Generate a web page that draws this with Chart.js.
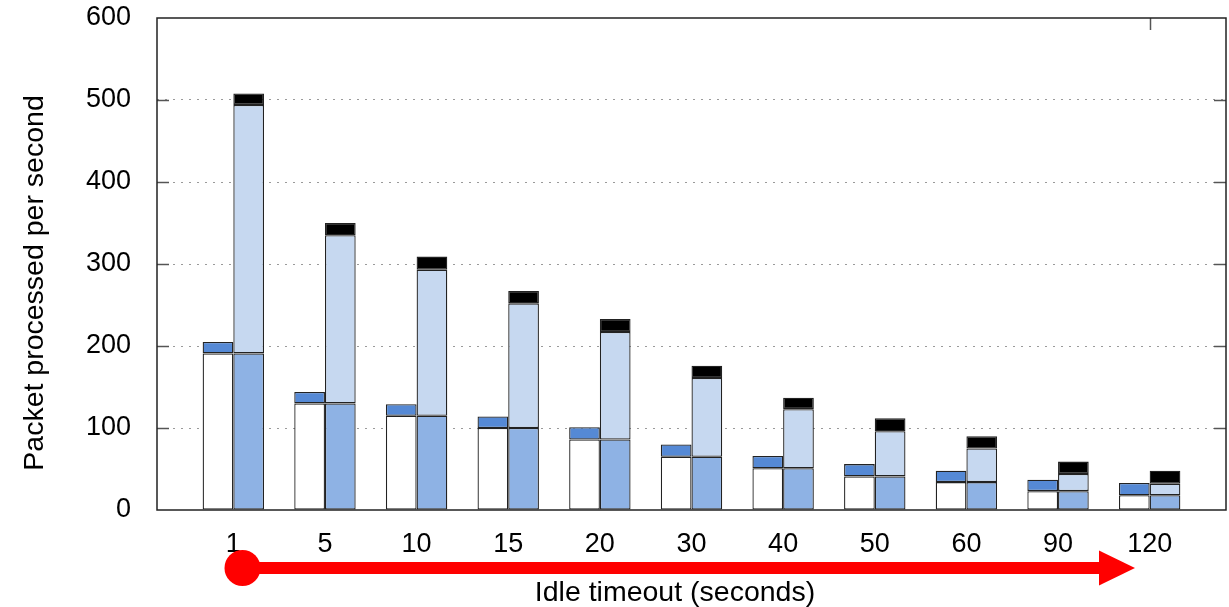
<!DOCTYPE html>
<html>
<head>
<meta charset="utf-8">
<script src="https://cdn.jsdelivr.net/npm/chart.js@4.4.1/dist/chart.umd.min.js"></script>
<style>
  html, body { margin: 0; padding: 0; background: #fff; }
  canvas { display: block; }
</style>
</head>
<body>
<canvas id="c" width="1229" height="607"></canvas>
<script>
// Idle timeout values (seconds) on the x axis
const timeouts = ['1', '5', '10', '15', '20', '30', '40', '50', '60', '90', '120'];
// Y axis ticks
const yTicks = [0, 100, 200, 300, 400, 500, 600];

// Shared base rate (bottom of both bars)
const baseRate    = [191, 130, 115, 100, 86, 65, 51, 41, 34, 23, 18];
// Left bar: extra on top of the base
const leftExtra   = [14, 14, 14, 14, 15, 15, 15, 15, 14, 14, 15];
// Right bar: middle and top segments
const rightMiddle = [303, 205, 178, 152, 131, 96, 72, 55, 41, 21, 14];
const rightTop    = [14, 15, 16, 15, 16, 15, 14, 16, 15, 15, 16];

const FONT = '"Liberation Sans", Arial, Helvetica, sans-serif';

const toPoints = arr => arr.map((v, i) => ({ x: i, y: v }));

const barStyle = (fill) => ({
  backgroundColor: fill,
  borderColor: '#222',
  borderWidth: 1.3,
  borderSkipped: false,
  barPercentage: 1.0,
  categoryPercentage: 0.67
});

// Keep the plot box fixed: no extra room for overflowing labels
const noPadding = s => {
  s.paddingTop = 0; s.paddingBottom = 0; s.paddingLeft = 0; s.paddingRight = 0;
};

// Frame, inward tick marks, axis titles and the red timeline arrow
const decorations = {
  id: 'decorations',
  afterDraw(chart) {
    const { ctx, chartArea: a, scales: { x, y } } = chart;
    const line = (x1, y1, x2, y2) => {
      ctx.beginPath(); ctx.moveTo(x1, y1); ctx.lineTo(x2, y2); ctx.stroke();
    };
    ctx.save();
    // inward ticks on left and right
    ctx.strokeStyle = '#555';
    ctx.lineWidth = 1.5;
    yTicks.slice(1, -1).forEach(v => {
      const py = Math.round(y.getPixelForValue(v)) + 0.5;
      line(a.left, py, a.left + 12, py);
      line(a.right - 12, py, a.right, py);
    });
    const tx = Math.round(x.getPixelForValue(timeouts.length - 1)) + 0.5;
    line(tx, a.top, tx, a.top + 12);

    // plot frame
    ctx.strokeStyle = '#222';
    ctx.lineWidth = 1.5;
    ctx.strokeRect(a.left, a.top, a.right - a.left, a.bottom - a.top);

    // axis titles
    ctx.fillStyle = '#000';
    ctx.font = '28.5px ' + FONT;
    ctx.textAlign = 'center';
    ctx.textBaseline = 'alphabetic';
    ctx.fillText('Idle timeout (seconds)', 675, 601);
    ctx.save();
    ctx.translate(35, 283);
    ctx.rotate(-Math.PI / 2);
    ctx.textBaseline = 'middle';
    ctx.fillText('Packet processed per second', 0, 0);
    ctx.restore();

    // red arrow along the timeline
    const ay = a.bottom + 58;
    const x0 = x.getPixelForValue(0.1);
    const xTip = x.getPixelForValue(9.84);
    const headLen = 36, headHalf = 17.5;
    ctx.fillStyle = '#ff0000';
    ctx.fillRect(x0, ay - 6, xTip - headLen - x0, 12);
    ctx.beginPath();
    ctx.moveTo(xTip - headLen, ay - headHalf);
    ctx.lineTo(xTip, ay);
    ctx.lineTo(xTip - headLen, ay + headHalf);
    ctx.closePath();
    ctx.fill();
    ctx.beginPath();
    ctx.arc(x0, ay, 18, 0, Math.PI * 2);
    ctx.fill();
    ctx.restore();
  }
};

new Chart(document.getElementById('c'), {
  type: 'bar',
  data: {
    datasets: [
      { label: 'base', data: toPoints(baseRate), stack: 'L', ...barStyle('#ffffff') },
      { label: 'extra', data: toPoints(leftExtra), stack: 'L', ...barStyle('#5589d5') },
      { label: 'base', data: toPoints(baseRate), stack: 'R', ...barStyle('#8eb2e4') },
      { label: 'middle', data: toPoints(rightMiddle), stack: 'R', ...barStyle('#c6d8f0') },
      { label: 'top', data: toPoints(rightTop), stack: 'R', ...barStyle('#000000') }
    ]
  },
  options: {
    responsive: false,
    animation: false,
    devicePixelRatio: 1,
    layout: { padding: { top: 18, right: 3, left: 0, bottom: 0 } },
    plugins: { legend: { display: false }, tooltip: { enabled: false } },
    scales: {
      x: {
        type: 'linear',
        stacked: true,
        offset: false,
        min: -0.833,
        max: timeouts.length - 1 + 0.833,
        afterBuildTicks: s => { s.ticks = timeouts.map((_, i) => ({ value: i })); },
        afterFit: s => { s.height = 97; noPadding(s); },
        grid: { display: false },
        border: { display: false },
        ticks: {
          color: '#000',
          font: { family: FONT, size: 27 },
          padding: 10,
          maxRotation: 0,
          autoSkip: false,
          callback: v => timeouts[v]
        }
      },
      y: {
        stacked: true,
        min: 0,
        max: 600,
        afterBuildTicks: s => { s.ticks = yTicks.map(v => ({ value: v })); },
        afterFit: s => { s.width = 157; noPadding(s); },
        grid: {
          drawTicks: false,
          color: c => (c.tick.value === 0 || c.tick.value === 600) ? 'rgba(0,0,0,0)' : '#9a9a9a',
          lineWidth: 1
        },
        border: { display: false, dash: [2, 6] },
        ticks: {
          color: '#000',
          font: { family: FONT, size: 27 },
          padding: 26
        }
      }
    }
  },
  plugins: [decorations]
});
</script>
</body>
</html>
